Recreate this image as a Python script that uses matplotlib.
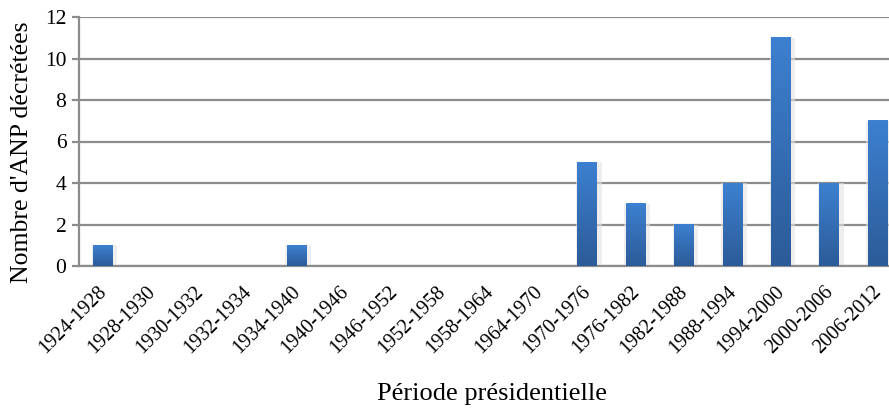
import numpy as np
import matplotlib.pyplot as plt
import matplotlib.transforms as mtransforms
from matplotlib.colors import LinearSegmentedColormap

periodes = ['1924-1928', '1928-1930', '1930-1932', '1932-1934', '1934-1940',
            '1940-1946', '1946-1952', '1952-1958', '1958-1964', '1964-1970',
            '1970-1976', '1976-1982', '1982-1988', '1988-1994', '1994-2000',
            '2000-2006', '2006-2012']
nb_anp = [1, 0, 0, 0, 1, 0, 0, 0, 0, 0, 5, 3, 2, 4, 11, 4, 7]

plt.rcParams['font.family'] = ['Liberation Serif', 'DejaVu Serif']

fig = plt.figure(figsize=(8.89, 4.08), dpi=100)
# axe volontairement plus large que la figure (derniere barre coupee)
ax = fig.add_axes([79/889, 1-266/408, 823/889, 249/408])

x = np.arange(len(periodes))
w = 0.41
cmap = LinearSegmentedColormap.from_list('bleu', ['#2c5b98', '#3d80d0'])
grad = np.linspace(0, 1, 100).reshape(-1, 1)

for xi, v in zip(x, nb_anp):
    if v <= 0:
        continue
    # ombre legere autour de la barre
    ax.bar(xi + 0.03, v + 0.05, width=w + 0.12, bottom=-0.05, color='#e3e3e3',
           alpha=0.6, zorder=2, linewidth=0)
    ax.imshow(grad, cmap=cmap, origin='lower', aspect='auto',
              extent=(xi - w/2, xi + w/2, 0, v), zorder=3)

ax.set_xlim(-0.5, len(periodes) - 0.5)
ax.set_ylim(0, 12)
ax.set_yticks(range(0, 13, 2))
ax.yaxis.grid(True, color='#8c8c8c', linewidth=1.6)
ax.set_axisbelow(True)

for s in ['top', 'right']:
    ax.spines[s].set_visible(False)
ax.spines['bottom'].set_color('#8c8c8c')
ax.spines['bottom'].set_linewidth(1.6)
ax.spines['left'].set_color('#8c8c8c')
ax.spines['left'].set_linewidth(1.6)

ax.set_xticks(x)
ax.set_xticklabels(periodes, rotation=45, ha='right', rotation_mode='anchor',
                   fontsize=14.5)
ax.tick_params(axis='x', length=0, pad=12)
ax.tick_params(axis='y', length=5, width=1.6, color='#8c8c8c', labelsize=15.5, pad=4)

# decale un peu les etiquettes vers la gauche
decal = mtransforms.ScaledTranslation(-6/100, 0, fig.dpi_scale_trans)
for lab in ax.get_xticklabels():
    lab.set_transform(lab.get_transform() + decal)

fig.text(22/889, 1-152/408, "Nombre d'ANP décrétées", fontsize=18.5,
         rotation=90, ha='center', va='center')
fig.text(492/889, 1-400/408, 'Période présidentielle', fontsize=19,
         ha='center', va='baseline')

fig.savefig('out.png', dpi=100)
